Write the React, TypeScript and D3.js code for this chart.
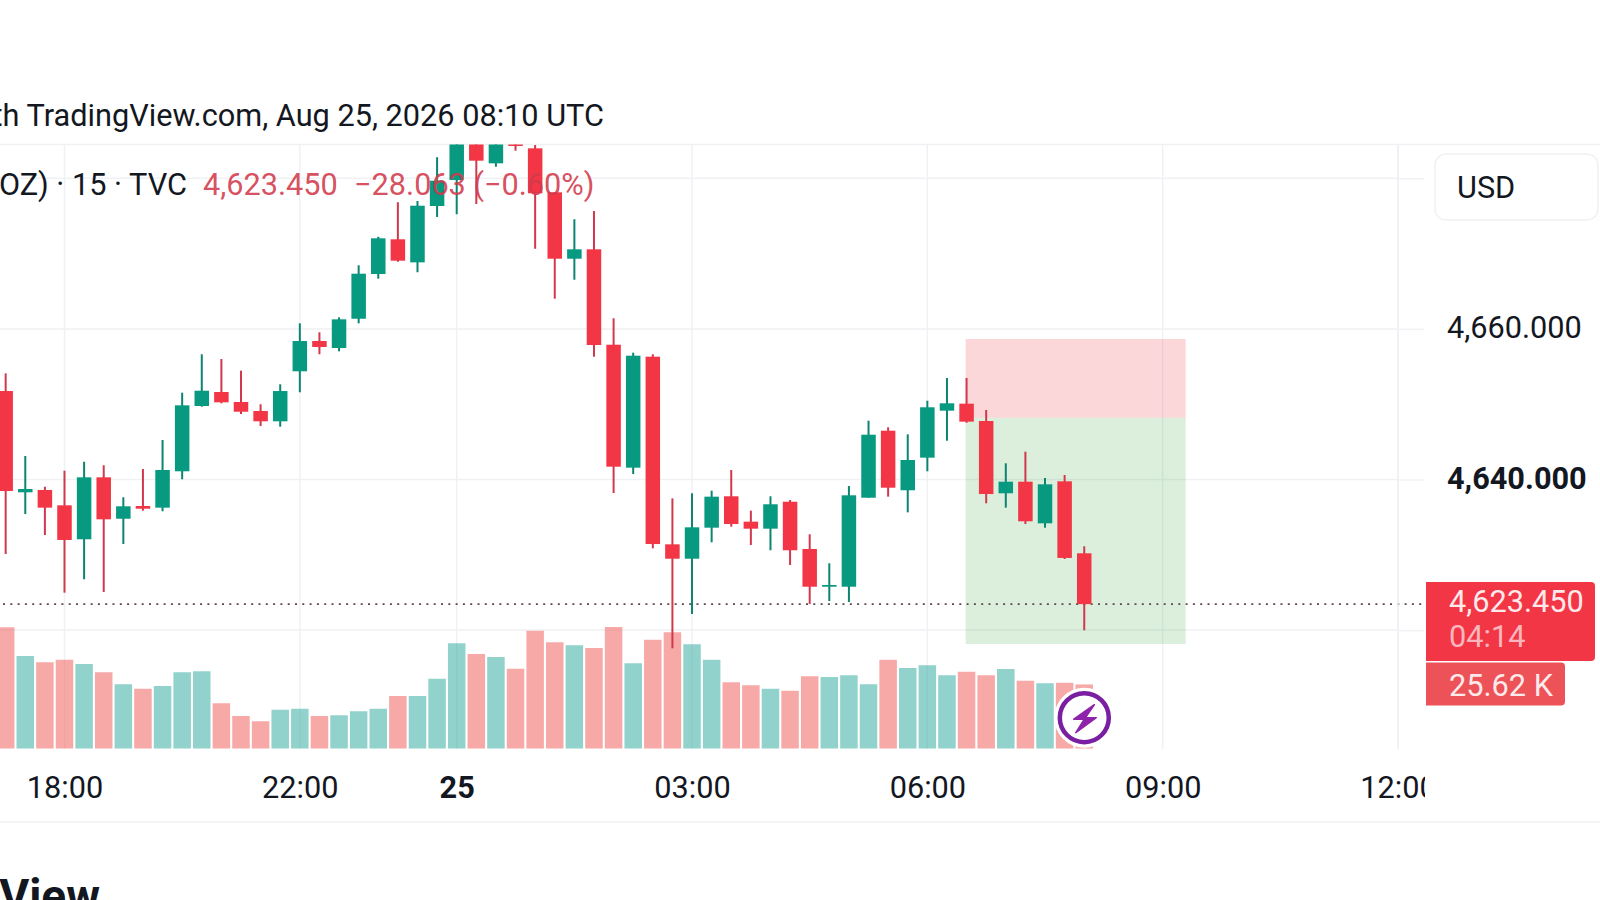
import { useEffect, useRef } from 'react';
import * as d3 from 'd3';

// 15 min candles, first one sits three bars before the 18:00 tick
const candleOpen = [
  4651.75, 4638.3, 4638.61, 4636.57, 4632.06, 4640.29, 4634.79, 4636.48, 4636.26, 4641.09, 4649.76, 4651.62,
  4650.29, 4649.1, 4647.73, 4654.37, 4658.39, 4657.46, 4661.35, 4667.29, 4671.9, 4668.84, 4676.32, 4679.77,
  4684.95, 4681.99, 4684.55, 4683.98, 4678.14, 4669.32, 4670.57, 4657.9, 4641.57, 4656.31, 4631.39, 4629.48,
  4633.6, 4637.77, 4634.4, 4633.47, 4637.05, 4630.77, 4625.76, 4625.76, 4637.58, 4646.48, 4638.57, 4642.9,
  4649.14, 4650.07, 4647.77, 4638.17, 4639.71, 4634.18, 4639.76, 4630.2,
];
const candleHigh = [
  4654.1, 4643.12, 4639.04, 4641.17, 4642.36, 4641.89, 4637.64, 4641.39, 4645.25, 4651.53, 4656.63, 4656.0,
  4654.45, 4649.99, 4652.64, 4660.74, 4659.55, 4661.54, 4668.45, 4672.24, 4676.81, 4676.98, 4682.79, 4685.75,
  4685.5, 4685.4, 4684.69, 4684.42, 4678.14, 4674.55, 4675.66, 4661.41, 4656.84, 4656.63, 4637.5, 4638.17,
  4638.51, 4641.26, 4635.86, 4637.77, 4637.28, 4632.72, 4628.87, 4639.14, 4647.81, 4646.93, 4646.0, 4650.46,
  4653.48, 4653.48, 4649.23, 4642.15, 4643.69, 4640.2, 4640.6, 4631.13,
];
const candleLow = [
  4630.11, 4635.42, 4632.63, 4624.97, 4626.75, 4625.06, 4631.43, 4635.86, 4635.78, 4640.03, 4649.67, 4650.12,
  4648.7, 4647.1, 4647.01, 4651.58, 4656.63, 4657.02, 4660.74, 4666.67, 4668.92, 4667.52, 4674.86, 4675.22,
  4676.59, 4681.54, 4683.66, 4670.65, 4664.01, 4666.53, 4656.31, 4638.21, 4640.73, 4630.86, 4617.58, 4622.14,
  4631.66, 4633.73, 4631.3, 4630.6, 4628.65, 4623.47, 4623.86, 4623.73, 4637.58, 4637.72, 4635.64, 4641.09,
  4645.15, 4647.54, 4636.84, 4636.26, 4634.09, 4633.6, 4629.44, 4619.97,
];
const candleClose = [
  4638.47, 4638.74, 4636.26, 4631.97, 4640.29, 4634.71, 4636.44, 4636.12, 4641.26, 4649.85, 4651.79, 4650.25,
  4649.0, 4647.73, 4651.75, 4658.39, 4657.6, 4661.27, 4667.33, 4672.03, 4669.06, 4676.36, 4679.68, 4685.09,
  4682.34, 4684.9, 4684.29, 4678.01, 4669.32, 4670.57, 4657.86, 4641.7, 4656.44, 4631.43, 4629.48, 4633.65,
  4637.72, 4634.09, 4633.47, 4636.71, 4630.6, 4625.76, 4625.99, 4637.9, 4645.95, 4638.91, 4642.59, 4649.59,
  4650.12, 4647.68, 4638.07, 4639.71, 4634.45, 4639.36, 4629.58, 4623.45,
];
const volumes = [
  48.5, 37, 34.5, 35.5, 33.8, 30.5, 25.7, 23.9, 25, 30.5, 30.9, 18.1, 13, 10.9, 15.5, 15.9, 13, 13.3, 14.9, 15.9,
  21, 21, 27.9, 42.1, 37.8, 36.6, 31.9, 47.1, 42.5, 41.3, 40.2, 48.6, 34.1, 43.5, 46.5, 41.7, 35.5, 26.5, 25.3,
  23.9, 23.1, 28.9, 28.6, 29.3, 25.7, 35.5, 32.2, 33.3, 29.3, 30.7, 29.3, 31.8, 27.1, 26.1, 26.3, 25.62,
];

const timeTicks = [3, 15, 23, 35, 47, 59, 71];
const timeLabels = ['18:00', '22:00', '25', '03:00', '06:00', '09:00', '12:00'];
const priceTicks = [4620, 4640, 4660, 4680];
const priceLabelled = [4640, 4660];

const lastPrice = 4623.45;
const positionStart = 48.95;
const positionEnd = 60.17;
const positionStop = 4658.66;
const positionEntry = 4648.2;
const positionTarget = 4618.15;

const green = '#089981';
const red = '#f23645';
const gridColor = '#f0f1f4';
const textColor = '#131722';
const legendRed = '#d23a4c';
const fontFamily = 'Roboto';
const fontSize = 30.7;

export default function App() {
  const ref = useRef<SVGSVGElement>(null);

  useEffect(() => {
    const svg = d3.select(ref.current);
    svg.selectAll('*').remove();

    const plotRight = 1398;
    const plotTop = 144.5;
    const plotBottom = 749;
    const bodyWidth = 14.5;
    const volWidth = 17.5;

    const x = d3.scaleLinear().domain([3, 71]).range([64.5, plotRight]);
    const y = d3.scaleLinear().domain([4640, 4660]).range([479.5, 328.9]);
    const yVol = d3.scaleLinear().domain([0, 50]).range([748.5, 623.5]);

    const defs = svg.append('defs');
    defs
      .append('clipPath')
      .attr('id', 'plot')
      .append('rect')
      .attr('x', 0)
      .attr('y', plotTop)
      .attr('width', plotRight)
      .attr('height', plotBottom - plotTop);
    defs
      .append('clipPath')
      .attr('id', 'timeaxis')
      .append('rect')
      .attr('x', 0)
      .attr('y', plotBottom)
      .attr('width', 1425)
      .attr('height', 70);

    svg.append('rect').attr('width', 1600).attr('height', 900).attr('fill', 'white');

    // frame lines
    svg
      .append('line')
      .attr('x1', 0)
      .attr('x2', 1600)
      .attr('y1', plotTop)
      .attr('y2', plotTop)
      .attr('stroke', gridColor)
      .attr('stroke-width', 1.5);
    svg
      .append('line')
      .attr('x1', 0)
      .attr('x2', 1600)
      .attr('y1', 822)
      .attr('y2', 822)
      .attr('stroke', gridColor)
      .attr('stroke-width', 1.5);

    // grid
    svg
      .append('g')
      .selectAll('line')
      .data(timeTicks)
      .enter()
      .append('line')
      .attr('x1', d => x(d))
      .attr('x2', d => x(d))
      .attr('y1', plotTop)
      .attr('y2', plotBottom)
      .attr('stroke', gridColor)
      .attr('stroke-width', 1.5);
    svg
      .append('g')
      .selectAll('line')
      .data(priceTicks)
      .enter()
      .append('line')
      .attr('x1', 0)
      .attr('x2', plotRight)
      .attr('y1', d => y(d))
      .attr('y2', d => y(d))
      .attr('stroke', gridColor)
      .attr('stroke-width', 1.5);

    // volume
    const candles = candleOpen.map((open, i) => ({
      i,
      open,
      high: candleHigh[i],
      low: candleLow[i],
      close: candleClose[i],
      volume: volumes[i],
      up: candleClose[i] >= open,
    }));
    svg
      .append('g')
      .attr('clip-path', 'url(#plot)')
      .selectAll('rect')
      .data(candles)
      .enter()
      .append('rect')
      .attr('x', d => x(d.i) - volWidth / 2)
      .attr('width', volWidth)
      .attr('y', d => yVol(d.volume))
      .attr('height', d => yVol(0) - yVol(d.volume))
      .attr('fill', d => (d.up ? '#26a69a' : '#ef5350'))
      .attr('fill-opacity', 0.5);

    // position box
    svg
      .append('rect')
      .attr('x', x(positionStart))
      .attr('width', x(positionEnd) - x(positionStart))
      .attr('y', y(positionStop))
      .attr('height', y(positionEntry) - y(positionStop))
      .attr('fill', '#f23645')
      .attr('fill-opacity', 0.2);
    svg
      .append('rect')
      .attr('x', x(positionStart))
      .attr('width', x(positionEnd) - x(positionStart))
      .attr('y', y(positionEntry))
      .attr('height', y(positionTarget) - y(positionEntry))
      .attr('fill', '#4caf50')
      .attr('fill-opacity', 0.2);

    // last price line
    svg
      .append('line')
      .attr('x1', 3)
      .attr('x2', 1424)
      .attr('y1', y(lastPrice))
      .attr('y2', y(lastPrice))
      .attr('stroke', '#5d4a50')
      .attr('stroke-width', 1.6)
      .attr('stroke-dasharray', '2 5.3');

    // candles
    const candleG = svg.append('g').attr('clip-path', 'url(#plot)');
    candleG
      .selectAll('line')
      .data(candles)
      .enter()
      .append('line')
      .attr('x1', d => x(d.i))
      .attr('x2', d => x(d.i))
      .attr('y1', d => y(d.high))
      .attr('y2', d => y(d.low))
      .attr('stroke', d => (d.up ? '#0b8471' : '#d0384c'))
      .attr('stroke-width', 2);
    candleG
      .selectAll('rect')
      .data(candles)
      .enter()
      .append('rect')
      .attr('x', d => x(d.i) - bodyWidth / 2)
      .attr('width', bodyWidth)
      .attr('y', d => y(Math.max(d.open, d.close)))
      .attr('height', d => Math.max(Math.abs(y(d.open) - y(d.close)), 1))
      .attr('fill', d => (d.up ? green : red));

    // price axis
    const priceAxis = d3
      .axisRight(y)
      .tickValues(priceTicks)
      .tickSize(26)
      .tickPadding(23)
      .tickFormat(d => (priceLabelled.includes(+d) ? d3.format(',.3f')(+d) : ''));
    const priceG = svg
      .append('g')
      .attr('transform', `translate(${plotRight},0)`)
      .call(priceAxis);
    priceG.select('.domain').remove();
    priceG.selectAll('.tick line').attr('stroke', gridColor).attr('stroke-width', 1.5);
    priceG
      .selectAll('.tick text')
      .attr('dy', '0.28em')
      .style('font-family', fontFamily)
      .style('font-size', `${fontSize}px`)
      .style('font-weight', d => (d === 4640 ? 700 : 400))
      .attr('fill', textColor);
    svg
      .append('line')
      .attr('x1', plotRight)
      .attr('x2', plotRight)
      .attr('y1', plotTop)
      .attr('y2', plotBottom)
      .attr('stroke', gridColor)
      .attr('stroke-width', 1.5);

    // time axis
    const timeAxis = d3
      .axisBottom(x)
      .tickValues(timeTicks)
      .tickSize(0)
      .tickPadding(27)
      .tickFormat(d => timeLabels[timeTicks.indexOf(+d)]);
    const timeG = svg
      .append('g')
      .attr('clip-path', 'url(#timeaxis)')
      .append('g')
      .attr('transform', `translate(0,${plotBottom})`)
      .call(timeAxis);
    timeG.select('.domain').remove();
    timeG
      .selectAll('.tick text')
      .style('font-family', fontFamily)
      .style('font-size', `${fontSize}px`)
      .style('font-weight', d => (d === 23 ? 700 : 400))
      .attr('fill', textColor);

    const label = (txt: string, px: number, py: number, fill: string, anchor = 'start', size = fontSize) =>
      svg
        .append('text')
        .attr('x', px)
        .attr('y', py)
        .attr('text-anchor', anchor)
        .attr('fill', fill)
        .style('font-family', fontFamily)
        .style('font-size', `${size}px`)
        .text(txt);

    // header and legend, only what the frame shows of them
    label('th TradingView.com, Aug 25, 2026 08:10 UTC', 604, 126, textColor, 'end');
    label('OZ) · 15 · TVC', 187, 195, textColor, 'end');
    label('4,623.450', 203, 195, legendRed).attr('fill-opacity', 0.9);
    label('−28.063 (−0.60%)', 354, 195, legendRed).attr('fill-opacity', 0.9);

    // USD box
    svg
      .append('rect')
      .attr('x', 1435)
      .attr('y', 154)
      .attr('width', 163)
      .attr('height', 66)
      .attr('rx', 11)
      .attr('fill', 'white')
      .attr('stroke', gridColor)
      .attr('stroke-width', 1.5);
    label('USD', 1457, 198, textColor);

    // last price tags
    svg
      .append('path')
      .attr('d', 'M1426,582 H1591 a4,4 0 0 1 4,4 V657 a4,4 0 0 1 -4,4 H1426 Z')
      .attr('fill', red);
    label('4,623.450', 1449, 612, '#ffe9eb');
    label('04:14', 1449, 647, '#fbb6bd');
    svg
      .append('path')
      .attr('d', 'M1426,662.5 H1561 a4,4 0 0 1 4,4 V701.5 a4,4 0 0 1 -4,4 H1426 Z')
      .attr('fill', '#ec5257');
    label('25.62 K', 1449, 696, '#ffe9eb');

    // flash icon
    const icon = svg.append('g').attr('transform', 'translate(1084.3,717.7)');
    icon.append('circle').attr('r', 30).attr('fill', 'white');
    icon
      .append('circle')
      .attr('r', 24.5)
      .attr('fill', 'white')
      .attr('stroke', '#7b1fa2')
      .attr('stroke-width', 4.5);
    icon
      .append('path')
      .attr('d', 'M10,-13 L-10.5,1.5 L0,1.5 L-8.5,15 L12,0 L1,0 Z')
      .attr('fill', '#8e24aa')
      .attr('stroke', '#8e24aa')
      .attr('stroke-width', 1.5)
      .attr('stroke-linejoin', 'round');

    // footer brand, cut by the page edge
    label('View', 100, 912, '#131722', 'end', 46).style('font-weight', 700);
  }, []);

  return (
    <svg
      ref={ref}
      width={1600}
      height={900}
      style={{ position: 'absolute', left: 0, top: 0, display: 'block' }}
    />
  );
}
